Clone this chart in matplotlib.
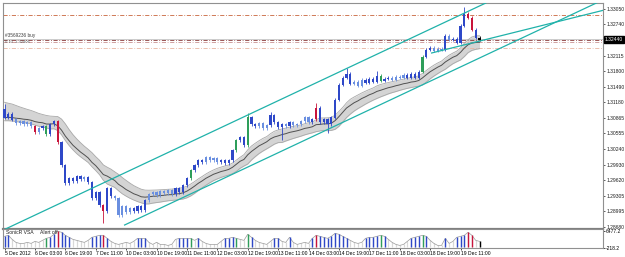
import numpy as np
import matplotlib.pyplot as plt

plt.rcParams['font.family'] = ['Liberation Sans Narrow', 'Liberation Sans', 'DejaVu Sans']

# EURUSD, H1 chart read in 2-hour steps (5 Dec 11:00 -> 19 Dec 21:00)
closes = [1.3087, 1.3095, 1.3083, 1.3076, 1.3080, 1.3074, 1.3078, 1.3070, 1.3058, 1.3066,
          1.3070, 1.3054, 1.3074, 1.3080, 1.3038, 1.2992, 1.2956, 1.2966, 1.2960, 1.2970,
          1.2964, 1.2968, 1.2958, 1.2926, 1.2938, 1.2912, 1.2900, 1.2946, 1.2930, 1.2926,
          1.2892, 1.2910, 1.2898, 1.2906, 1.2900, 1.2910, 1.2902, 1.2922, 1.2934, 1.2938,
          1.2932, 1.2940, 1.2936, 1.2942, 1.2934, 1.2946, 1.2938, 1.2952, 1.2966, 1.2982,
          1.2992, 1.3002, 1.2998, 1.3008, 1.3002, 1.3006, 1.2998, 1.3002, 1.2996, 1.3002,
          1.3022, 1.3042, 1.3048, 1.3032, 1.3087, 1.3074, 1.3070, 1.3076, 1.3066, 1.3072,
          1.3092, 1.3078, 1.3068, 1.3074, 1.3070, 1.3078, 1.3072, 1.3074, 1.3080, 1.3087,
          1.3078, 1.3084, 1.3107, 1.3078, 1.3083, 1.3074, 1.3087, 1.3123, 1.3153, 1.3167,
          1.3175, 1.3155, 1.3159, 1.3151, 1.3163, 1.3157, 1.3165, 1.3159, 1.3171, 1.3161,
          1.3165, 1.3167, 1.3163, 1.3169, 1.3167, 1.3173, 1.3167, 1.3175, 1.3167, 1.3179,
          1.3209, 1.3223, 1.3227, 1.3221, 1.3225, 1.3223, 1.3251, 1.3243, 1.3245, 1.3237,
          1.3271, 1.3295, 1.3287, 1.3263, 1.3247, 1.3243]
first_open = 1.3105
spike_highs = {0: 1.3115, 64: 1.3097, 70: 1.3099, 82: 1.3117, 90: 1.3187, 98: 1.3181, 121: 1.3309}
spike_lows = {26: 1.2876, 73: 1.3042, 85: 1.3056}

volumes = [4400, 4800, 3200, 2000, 1600, 1600, 2000, 1600, 2400, 2000,
           2800, 3600, 4000, 5200, 6400, 6000, 4800, 4000, 3200, 2800,
           2400, 2000, 2800, 4000, 4400, 4800, 4800, 3600, 2400, 1600,
           1200, 1600, 2000, 1600, 2400, 3600, 3600, 3600, 2000, 1200,
           2000, 1200, 1200, 800, 1200, 3200, 3600, 3600, 3600, 3600,
           2800, 3600, 2400, 1600, 1200, 1200, 1200, 2400, 3600, 3600,
           4000, 3600, 3200, 2800, 5200, 4000, 2800, 2000, 1600, 1200,
           2400, 3600, 3600, 2400, 2000, 4000, 2000, 1200, 1600, 2000,
           1600, 3600, 4800, 4400, 4000, 3600, 4400, 5600, 5200, 4400,
           3600, 2800, 2000, 1600, 2000, 3600, 4000, 4000, 4400, 4800,
           4400, 3200, 2000, 1200, 800, 1200, 2400, 3600, 4000, 4400,
           4800, 4400, 2800, 1600, 800, 800, 3600, 1600, 2400, 4000,
           4400, 4800, 6000, 4800, 2800, 2400]
up_signals = [11, 49, 61, 64, 99, 110]
down_signals = [8, 14, 26, 82, 122, 123]

time_labels = ['5 Dec 2012', '6 Dec 03:00', '6 Dec 19:00', '7 Dec 11:00', '10 Dec 03:00',
               '10 Dec 19:00', '11 Dec 11:00', '12 Dec 03:00', '12 Dec 19:00', '13 Dec 11:00',
               '14 Dec 03:00', '14 Dec 19:00', '17 Dec 11:00', '18 Dec 03:00', '18 Dec 19:00',
               '19 Dec 11:00']
price_ticks = [1.33050, 1.32740, 1.32440, 1.32115, 1.31800, 1.31490, 1.31180, 1.30865,
               1.30555, 1.30240, 1.29930, 1.29620, 1.29305, 1.28995, 1.28680]
current_price = 1.32440
order_lines = [1.32930, 1.32429, 1.32389, 1.32268]
order_colors = ['#c8643c', '#8b3a3a', '#c89090', '#e8b4a0']

# drawn objects: two points each (bar, price)
channel_upper = [(54.5, 1.30584), (107.1, 1.32469)]
channel_lower = [(31.6, 1.28720), (107.1, 1.31426)]
trend_short = [(112.4, 1.32168), (157.9, 1.33030)]

n = len(closes)
idx = np.arange(n)
c = np.array(closes)
o = np.concatenate([[first_open], c[:-1]])
hi = np.maximum(o, c) + 0.0003
lo = np.minimum(o, c) - 0.0003
for k, v in spike_highs.items():
    hi[k] = v
for k, v in spike_lows.items():
    lo[k] = v
vol = np.array(volumes)

def bar_color(i):
    if i == n - 1:
        return 'black'
    if i in up_signals:
        return '#2e9e5a'
    if i in down_signals:
        return '#c8143c'
    return '#2e48c8' if vol[i] >= 2400 else '#6a8fe0'

colors = [bar_color(i) for i in range(n)]

# SonicR dragon: EMA34 on H1 -> span 17 on 2h bars
def ema(x, span):
    a = 2.0 / (span + 1)
    out = np.empty(len(x))
    out[0] = x[0]
    for k in range(1, len(x)):
        out[k] = out[k - 1] + a * (x[k] - out[k - 1])
    return out

ema_c = ema(c, 17)
ema_h = ema(hi, 17) + 0.0003
ema_l = ema(lo, 17) - 0.0003

W, H = 625, 257
fig = plt.figure(figsize=(W / 100, H / 100), dpi=100)
fig.patch.set_facecolor('white')
ax = fig.add_axes([3 / W, (H - 229) / H, 600 / W, 226 / H])
axv = fig.add_axes([3 / W, 9 / H, 600 / W, 19 / H])

xmin, xmax = -0.4, 157.5
ax.set_xlim(xmin, xmax)
ax.set_ylim(1.28640, 1.33170)

# dragon band
ax.fill_between(idx, ema_l, ema_h, color='#d4d4d4', lw=0, zorder=1)
ax.plot(idx, ema_h, color='#a8a8a8', lw=0.6, zorder=2)
ax.plot(idx, ema_l, color='#a8a8a8', lw=0.6, zorder=2)
ax.plot(idx, ema_c, color='#505050', lw=0.7, zorder=2)

# order / price lines
ax.axhline(current_price, color='#b8b8b8', lw=0.5, zorder=1)
for p, col in zip(order_lines, order_colors):
    ax.axhline(p, color=col, lw=0.6, ls=(0, (5, 2, 1, 2)), zorder=1)

# candles
ax.vlines(idx, lo, hi, colors=colors, lw=0.6, zorder=3)
ax.bar(idx, np.abs(c - o) + 0.00005, bottom=np.minimum(o, c), width=0.55,
       color=colors, lw=0, zorder=3)

# channel lines
tl = dict(color='#20b2aa', lw=0.9, zorder=4)
ax.axline(channel_upper[0], channel_upper[1], **tl)
for (x0, y0), (x1, y1) in [channel_lower, trend_short]:
    s = (y1 - y0) / (x1 - x0)
    ax.plot([x0, xmax + 5], [y0, y0 + s * (xmax + 5 - x0)], **tl)

ax.text(0.003, 1.32470, '#3569236 buy', fontsize=3.4, color='#404040', va='bottom')
ax.text(0.003, 1.32420, '0.10  1.32406', fontsize=3.0, color='#606060', va='top')

ax.yaxis.tick_right()
ax.set_yticks(price_ticks)
ax.set_yticklabels(['' if p == current_price else '%.5f' % p for p in price_ticks])
ax.tick_params(axis='y', labelsize=3.6, length=1.5, pad=0.8, colors='#202020', width=0.5)
ax.set_xticks([])
ax.text(1.0035, current_price, '%.5f' % current_price, transform=ax.get_yaxis_transform(),
        fontsize=3.6, color='white', va='center', ha='left',
        bbox=dict(boxstyle='square,pad=0.15', fc='black', ec='black'))

for a in (ax, axv):
    for s in a.spines.values():
        s.set_color('#909090')
        s.set_linewidth(0.8)
ax.spines['bottom'].set_linewidth(1.6)
ax.spines['bottom'].set_color('#808080')

# volume panel
axv.set_xlim(xmin, xmax)
axv.set_ylim(-218.2, 7300)
axv.vlines(idx, 0, vol, colors='#d8d8d8', lw=0.9)
axv.plot(idx, vol, color='#9a9a9a', lw=0.5)
hv = vol >= 3600
hv[-1] = True
axv.vlines(idx[hv], 0, vol[hv], colors=[colors[i] for i in idx[hv]], lw=1.0)
axv.yaxis.tick_right()
axv.set_yticks([-218.2, 6477.2])
axv.set_yticklabels(['-218.2', '6477.2'])
axv.tick_params(axis='y', labelsize=3.6, length=1.5, pad=0.8, width=0.5)
axv.text(0.005, 0.95, 'SonicR VSA     Alert off', transform=axv.transAxes,
         fontsize=3.6, va='top', color='#202020')

axv.set_xticks(np.arange(0, 8 * len(time_labels), 8))
axv.set_xticklabels(time_labels, ha='left')
axv.tick_params(axis='x', labelsize=3.6, length=1.5, pad=0.8, width=0.5)

plt.savefig('out.png', dpi=100)
